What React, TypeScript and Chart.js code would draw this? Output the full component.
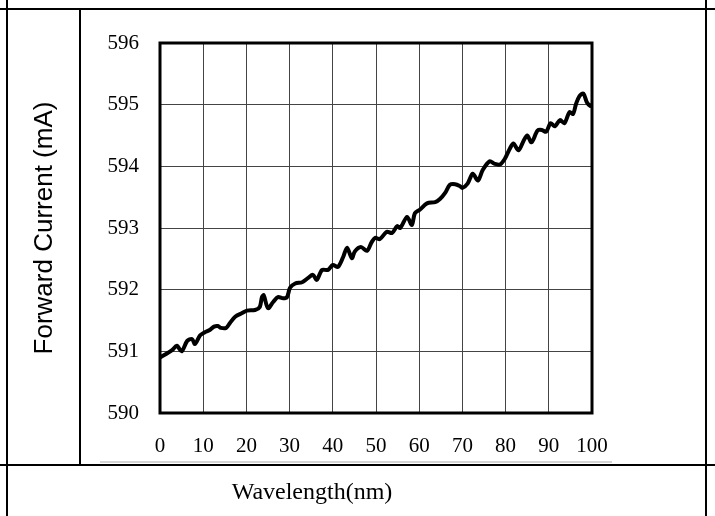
import React, { useEffect, useRef } from "react";
import { Chart, registerables } from "chart.js";

Chart.register(...registerables);

const wavelength = [0, 1.5, 2.8, 3.9, 5.0, 6.3, 7.4, 8.1, 9.3, 10.4, 11.6, 12.5, 13.4, 14.1, 15.3, 16.2, 17.4, 19.0, 20.1, 22.0, 23.1, 23.6, 24.0, 25.0, 26.2, 27.3, 28.5, 29.4, 30.1, 31.3, 32.9, 34.3, 35.4, 36.3, 37.5, 38.9, 40.0, 41.2, 42.4, 43.3, 44.4, 45.1, 46.5, 47.9, 49.0, 49.8, 50.9, 52.5, 53.7, 54.9, 55.6, 57.2, 58.3, 59.0, 60.2, 61.8, 63.7, 64.8, 66.0, 67.1, 68.3, 69.4, 70.0, 71.2, 72.4, 73.6, 74.7, 76.3, 77.5, 78.7, 79.8, 81.0, 81.8, 83.0, 84.2, 85.0, 86.0, 87.4, 88.4, 89.4, 90.4, 91.4, 92.6, 93.6, 94.8, 95.6, 96.3, 97.1, 98.0, 98.8, 99.6, 100];

const current = [590.90, 590.96, 591.02, 591.09, 591.00, 591.17, 591.20, 591.12, 591.26, 591.31, 591.35, 591.40, 591.41, 591.38, 591.38, 591.46, 591.56, 591.62, 591.66, 591.67, 591.72, 591.88, 591.91, 591.70, 591.80, 591.88, 591.86, 591.88, 592.03, 592.10, 592.12, 592.19, 592.24, 592.16, 592.32, 592.32, 592.40, 592.37, 592.53, 592.68, 592.51, 592.62, 592.69, 592.63, 592.77, 592.84, 592.82, 592.94, 592.92, 593.03, 593.00, 593.18, 593.05, 593.24, 593.30, 593.40, 593.42, 593.47, 593.57, 593.70, 593.71, 593.68, 593.65, 593.72, 593.88, 593.77, 593.94, 594.08, 594.04, 594.03, 594.12, 594.29, 594.37, 594.26, 594.42, 594.50, 594.39, 594.58, 594.59, 594.56, 594.70, 594.65, 594.75, 594.70, 594.88, 594.85, 595.01, 595.14, 595.18, 595.04, 594.98, 595.00];

const xTitle = "Wavelength(nm)";
const yTitle = "Forward Current (mA)";
const xMin = 0, xMax = 100, xStep = 10;
const yMin = 590, yMax = 596, yStep = 1;

const framePlugin = {
  id: "framePlugin",
  beforeDatasetsDraw(chart: any) {
    const { ctx, chartArea: a } = chart;
    ctx.save();
    ctx.strokeStyle = "#000";
    ctx.lineWidth = 3;
    ctx.strokeRect(a.left, a.top, a.right - a.left, a.bottom - a.top);
    ctx.restore();
  },
  afterDraw(chart: any) {
    const { ctx } = chart;
    ctx.save();
    ctx.strokeStyle = "#000";
    ctx.lineWidth = 2;
    const line = (x1: number, y1: number, x2: number, y2: number) => {
      ctx.beginPath();
      ctx.moveTo(x1, y1);
      ctx.lineTo(x2, y2);
      ctx.stroke();
    };
    line(0, 9, 715, 9);
    line(7, 0, 7, 516);
    line(706, 0, 706, 516);
    line(80, 9, 80, 465);
    line(0, 465, 715, 465);
    ctx.strokeStyle = "#aaa";
    ctx.lineWidth = 1;
    line(100, 462, 612, 462);
    ctx.restore();
  },
};

export default function App() {
  const ref = useRef<HTMLCanvasElement>(null);
  useEffect(() => {
    if (!ref.current) return;
    const chart = new Chart(ref.current, {
      type: "line",
      data: {
        datasets: [
          {
            data: wavelength.map((x, i) => ({ x, y: current[i] })),
            borderColor: "#000",
            borderWidth: 4,
            pointRadius: 0,
            tension: 0.3,
            fill: false,
          },
        ],
      },
      options: {
        responsive: false,
        animation: false,
        events: [],
        layout: { padding: { left: 32, right: 123, top: 43, bottom: 0 } },
        plugins: {
          legend: { display: false },
          tooltip: { enabled: false },
          title: {
            display: true,
            position: "bottom",
            text: xTitle,
            color: "#000",
            font: { family: "Liberation Serif", size: 24, weight: "normal", lineHeight: 1.2 },
            padding: { top: 0, bottom: 8.6 },
          },
        },
        scales: {
          x: {
            type: "linear",
            min: xMin,
            max: xMax,
            afterFit: (s: any) => { s.height = 516 - 37.4 - 413; },
            ticks: {
              stepSize: xStep,
              padding: 20.8,
              color: "#000",
              maxRotation: 0,
              font: { family: "Liberation Serif", size: 21, lineHeight: 1.2 },
            },
            grid: { color: "#444", lineWidth: 1, drawTicks: false },
            border: { display: false },
          },
          y: {
            type: "linear",
            min: yMin,
            max: yMax,
            afterFit: (s: any) => { s.width = 128; },
            ticks: {
              stepSize: yStep,
              padding: 21,
              color: "#000",
              font: { family: "Liberation Serif", size: 21 },
            },
            grid: { color: "#444", lineWidth: 1, drawTicks: false },
            border: { display: false },
            title: {
              display: true,
              text: yTitle,
              color: "#000",
              font: { family: "Liberation Sans", size: 26, lineHeight: 1 },
              padding: { top: 0, bottom: 0 },
            },
          },
        },
      },
      plugins: [framePlugin],
    });
    return () => chart.destroy();
  }, []);
  return (
    <div style={{ position: "absolute", left: 0, top: 0, width: 715, height: 516, background: "#fff" }}>
      <canvas ref={ref} width={715} height={516} style={{ display: "block" }} />
    </div>
  );
}
